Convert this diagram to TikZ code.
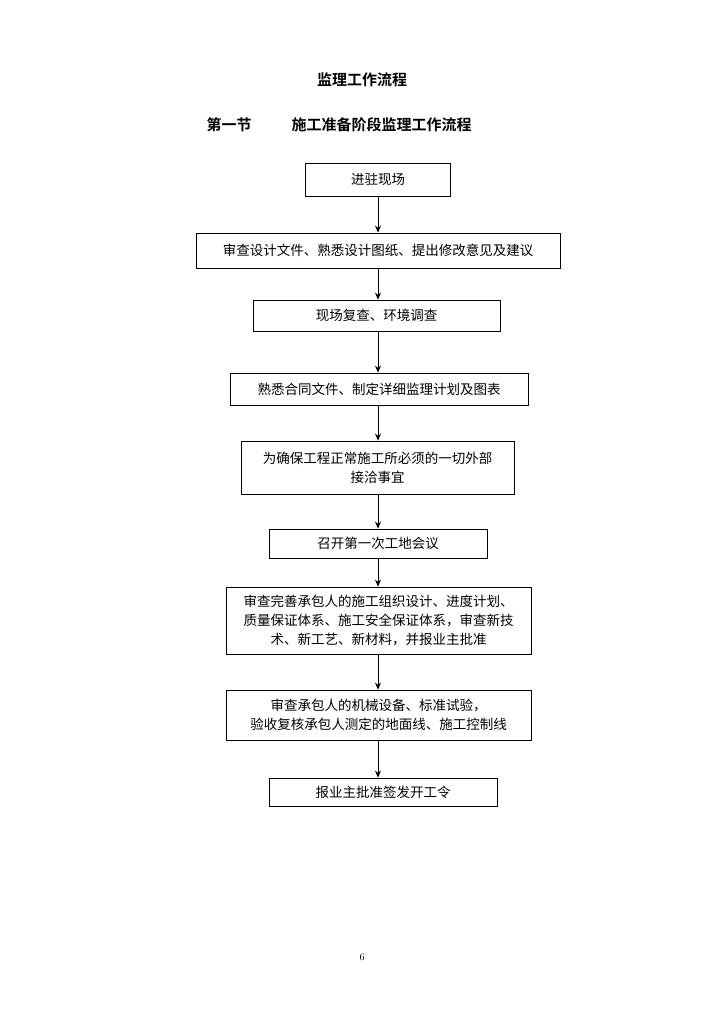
\documentclass[tikz,border=0pt]{standalone}
\usepackage{fontspec}
\newfontfamily\cjk{Noto Sans CJK SC}
\newfontfamily\cjkb{Noto Sans CJK SC Bold}
\usetikzlibrary{arrows.meta}
\begin{document}
\begin{tikzpicture}[x=1pt,y=-1pt,
 box/.style={draw,line width=0.8pt,inner sep=0pt,align=center,font=\cjk\fontsize{13.5}{19}\selectfont},
 arr/.style={-{Stealth[length=7pt,width=6pt]},line width=0.8pt}]
\useasboundingbox (0,0) rectangle (724,1024);
\fill[white] (0,0) rectangle (724,1024);
\node[font=\cjkb\fontsize{15}{18}\selectfont] (t) at (362,80) {监理工作流程};
\node[font=\cjkb\fontsize{15}{18}\selectfont,anchor=west] (s1) at (203,125) {第一节};
\node[font=\cjkb\fontsize{15}{18}\selectfont,anchor=west] (s2) at (288,125) {施工准备阶段监理工作流程};
\node[box,minimum width=145pt,minimum height=33pt] (b1) at (378,179.5) {进驻现场};
\node[box,minimum width=364pt,minimum height=35pt] (b2) at (378,250.5) {审查设计文件、熟悉设计图纸、提出修改意见及建议};
\node[box,minimum width=247pt,minimum height=31pt] (b3) at (376.5,315.5) {现场复查、环境调查};
\node[box,minimum width=298pt,minimum height=32pt] (b4) at (379,389) {熟悉合同文件、制定详细监理计划及图表};
\node[box,minimum width=273pt,minimum height=53pt] (b5) at (377.5,467.5) {为确保工程正常施工所必须的一切外部\\接洽事宜};
\node[box,minimum width=218pt,minimum height=29pt] (b6) at (378,543.5) {召开第一次工地会议};
\node[box,minimum width=305pt,minimum height=67pt] (b7) at (378.5,620.5) {审查完善承包人的施工组织设计、进度计划、\\质量保证体系、施工安全保证体系，审查新技\\术、新工艺、新材料，并报业主批准};
\node[box,minimum width=305pt,minimum height=50pt] (b8) at (378.5,715) {审查承包人的机械设备、标准试验，\\验收复核承包人测定的地面线、施工控制线};
\node[box,minimum width=228pt,minimum height=28pt] (b9) at (383,792) {报业主批准签发开工令};
\foreach \a/\b in {b1/b2,b2/b3,b3/b4,b4/b5,b5/b6,b6/b7,b7/b8,b8/b9}
  \draw[arr] (\a.south -| 378,0) -- (\b.north -| 378,0);
\node[font=\fontsize{10}{12}\selectfont] (p) at (362,957) {6};
\end{tikzpicture}
\end{document}
